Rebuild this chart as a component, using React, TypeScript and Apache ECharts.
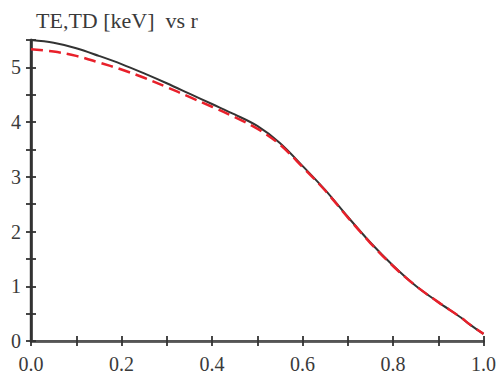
import React, { useEffect, useRef } from "react";
import * as echarts from "echarts";

const rGrid = [0.0, 0.05, 0.1, 0.15, 0.2, 0.25, 0.3, 0.35, 0.4, 0.45, 0.5, 0.55, 0.6, 0.65, 0.7, 0.75, 0.8, 0.85, 0.9, 0.95, 0.97, 1.0];
const teValues = [5.5, 5.45, 5.35, 5.21, 5.06, 4.89, 4.71, 4.52, 4.33, 4.14, 3.93, 3.62, 3.2, 2.76, 2.27, 1.8, 1.38, 1.01, 0.71, 0.43, 0.3, 0.13];
const tdValues = [5.33, 5.29, 5.21, 5.09, 4.96, 4.81, 4.64, 4.46, 4.28, 4.09, 3.88, 3.59, 3.18, 2.75, 2.26, 1.79, 1.37, 1.01, 0.71, 0.43, 0.3, 0.13];
const titleText = "TE,TD [keV]  vs r";

const FONT = "Liberation Serif";
const AX = "#333333";

export default function App() {
  const ref = useRef<HTMLDivElement>(null);
  useEffect(() => {
    if (!ref.current) return;
    const chart = echarts.init(ref.current, undefined, { renderer: "svg" });
    const te = rGrid.map((r, i) => [r, teValues[i]]);
    const td = rGrid.map((r, i) => [r, tdValues[i]]);
    const tick = { show: true, inside: true, length: 5, lineStyle: { color: AX, width: 1.8 } };
    chart.setOption({
      animation: false,
      backgroundColor: "#ffffff",
      title: {
        text: titleText,
        left: 31,
        top: 4,
        textStyle: { fontFamily: FONT, fontSize: 22, fontWeight: "normal", color: "#3a3a3a" },
      },
      grid: { left: 31, right: 15, top: 40, bottom: 36, containLabel: false },
      xAxis: [
        {
          type: "value", min: 0, max: 1, interval: 0.1, position: "bottom",
          axisLine: { lineStyle: { color: AX, width: 2.6 } },
          axisTick: tick,
          splitLine: { show: false },
          axisLabel: {
            margin: 13, color: "#3a3a3a", fontFamily: FONT, fontSize: 20,
            formatter: (v: number) => (Math.round(v * 10) % 2 === 0 ? v.toFixed(1) : ""),
          },
        },
        {
          type: "value", min: 0, max: 1, interval: 0.1, position: "top",
          axisLine: { lineStyle: { color: "#555555", width: 2 } },
          axisTick: tick,
          splitLine: { show: false },
          axisLabel: { show: false },
        },
      ],
      yAxis: [
        {
          type: "value", min: 0, max: 5.5, interval: 0.5, position: "left",
          axisLine: { show: true, lineStyle: { color: AX, width: 2.4 } },
          axisTick: tick,
          splitLine: { show: false },
          axisLabel: {
            margin: 10, color: "#3a3a3a", fontFamily: FONT, fontSize: 20,
            formatter: (v: number) => (Math.abs(v - Math.round(v)) < 1e-6 ? String(Math.round(v)) : ""),
          },
        },
        {
          type: "value", min: 0, max: 5.5, interval: 0.5, position: "right",
          axisLine: { show: true, lineStyle: { color: AX, width: 2.6 } },
          axisTick: tick,
          splitLine: { show: false },
          axisLabel: { show: false },
        },
      ],
      series: [
        {
          type: "line", name: "TE", data: te, smooth: 0.35, showSymbol: false,
          lineStyle: { color: "#333333", width: 2 }, z: 2,
        },
        {
          type: "line", name: "TD", data: td, smooth: 0.35, showSymbol: false,
          lineStyle: { color: "#e8202a", width: 2.5, type: [12, 6] }, z: 3,
        },
      ],
    });
    return () => chart.dispose();
  }, []);
  return <div ref={ref} style={{ position: "fixed", left: 0, top: 0, width: 499, height: 377 }} />;
}
